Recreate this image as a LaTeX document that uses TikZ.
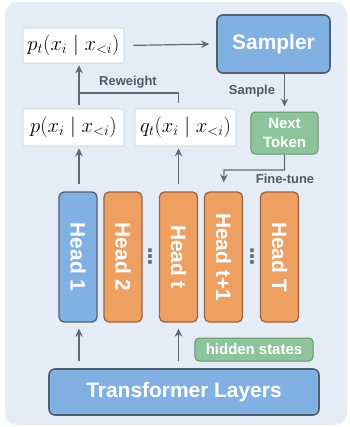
\documentclass[tikz,border=0pt]{standalone}
\usepackage{fontspec}
\setmainfont{Liberation Sans}
\newfontfamily\symfont{DejaVu Sans}
\usetikzlibrary{arrows.meta,calc}

\definecolor{panelbg}{HTML}{E5ECF5}
\definecolor{blueF}{HTML}{81B1E3}
\definecolor{blueD}{HTML}{4E6173}
\definecolor{orangeF}{HTML}{EEA062}
\definecolor{orangeD}{HTML}{9C6440}
\definecolor{greenF}{HTML}{8EC49C}
\definecolor{greenD}{HTML}{64976F}
\definecolor{wire}{HTML}{5B6B7A}
\definecolor{labelgray}{HTML}{4D5B69}
\definecolor{boxline}{HTML}{C9D0D8}

\tikzset{
  distbox/.style={draw=boxline, line width=0.6bp, fill=white, rounded corners=2bp,
    inner sep=0pt, font=\fontsize{20.5}{22}\selectfont},
  bluebox/.style={draw=blueD, line width=1.6bp, fill=blueF, rounded corners=6bp,
    inner sep=0pt, text=white, font=\bfseries\fontsize{21}{24}\selectfont},
  headbox/.style={draw=#1D, line width=1.3bp, fill=#1F, rounded corners=5bp,
    minimum width=38bp, minimum height=130bp, inner sep=0pt},
  headtext/.style={rotate=-90, text=white, font=\bfseries\fontsize{21}{24}\selectfont},
  greenbox/.style={draw=greenD, line width=1bp, fill=greenF, rounded corners=4bp,
    inner sep=0pt, text=white, align=center, font=\bfseries\fontsize{15}{19}\selectfont},
  wirelabel/.style={text=labelgray, font=\bfseries\fontsize{13}{15}\selectfont},
  wireline/.style={draw=wire, line width=1.2bp},
  arr/.style={wireline, -{Stealth[length=8bp,width=7.5bp]}},
  dotsmark/.style={text=wire, inner sep=0pt, font=\symfont\bfseries\fontsize{20}{20}\selectfont},
}

\begin{document}
\begin{tikzpicture}[x=1bp,y=-1bp]
\useasboundingbox (0,0) rectangle (350,427);
\fill[panelbg, rounded corners=12bp] (5,2) rectangle (347,425);

% distribution boxes
\node[distbox, minimum width=101bp, minimum height=35bp] (pt) at (73.5,45.5) {$p_t(x_i \mid x_{<i})$};
\node[distbox, minimum width=101bp, minimum height=37bp] (pb) at (73.5,127.5) {$p(x_i \mid x_{<i})$};
\node[distbox, minimum width=101bp, minimum height=37bp] (qb) at (185.5,127.5) {$q_t(x_i \mid x_{<i})$};

% sampler and sampled token
\node[bluebox, minimum width=113bp, minimum height=58bp] (samp) at (273.5,44) {Sampler};
\node[greenbox, minimum width=67bp, minimum height=42bp] (next) at (284.5,133) {Next\\Token};

% prediction heads
\node[headbox=blue] (h1) at (78,257) {};
\node[headtext] at (h1) {Head 1};
\node[headbox=orange] (h2) at (123,257) {};
\node[headtext] at (h2) {Head 2};
\node[headbox=orange] (ht) at (178.5,257) {};
\node[headtext] at (ht) {Head t};
\node[headbox=orange] (htp) at (223.5,257) {};
\node[headtext] at (htp) {Head t+1};
\node[headbox=orange] (hT) at (279.5,257) {};
\node[headtext] at (hT) {Head T};
\node[dotsmark] (d1) at (150,257) {⋮};
\node[dotsmark] (d2) at (252,257) {⋮};

% backbone
\node[greenbox, minimum width=118bp, minimum height=23bp, font=\bfseries\fontsize{15}{17}\selectfont] (hid) at (254,349.5) {hidden states};
\node[bluebox, minimum width=270bp, minimum height=46bp] (tl) at (184,392) {Transformer Layers};

% connectors
\coordinate (rw) at (79,93);
\coordinate (ft) at (224,170);
\draw[arr, shorten <=9bp, shorten >=7bp] (pt.east) -- (samp.west);
\draw[arr, shorten <=4bp, shorten >=2bp] (rw |- pb.north) -- (rw |- pt.south);
\draw[wireline, shorten <=6bp] (ht.north |- qb.north) |- (rw);
\node[wirelabel] at (128,82) {Reweight};
\draw[arr, shorten >=5bp] (next.north |- samp.south) -- (next.north);
\node[wirelabel] at (252,91) {Sample};
\draw[arr, shorten >=9bp] (next.south) |- (ft) -- (htp.north);
\node[wirelabel] at (285,179) {Fine-tune};
\draw[arr, shorten <=7bp, shorten >=2bp] (rw |- h1.north) -- (rw |- pb.south);
\draw[arr, shorten <=7bp, shorten >=2bp] (ht.north) -- (ht.north |- qb.south);
\draw[arr, shorten <=7bp, shorten >=6bp] (rw |- tl.north) -- (rw |- h1.south);
\draw[arr, shorten <=7bp, shorten >=6bp] (ht.north |- tl.north) -- (ht.south);
\end{tikzpicture}
\end{document}
